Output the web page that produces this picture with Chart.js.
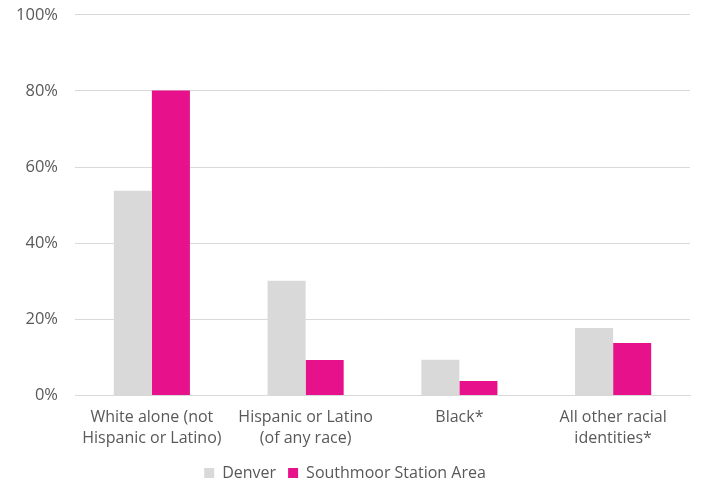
<!DOCTYPE html>
<html>
<head>
<meta charset="utf-8">
<script src="https://cdn.jsdelivr.net/npm/chart.js@4"></script>
<style>
  body { margin: 0; background: #fff; overflow: hidden; }
  #wrap { width: 701px; height: 503px; margin-top: -12.5px; }
</style>
</head>
<body>
<div id="wrap"><canvas id="grafico"></canvas></div>
<script>
var categorias = [
  ['White alone (not', 'Hispanic or Latino)'],
  ['Hispanic or Latino', '(of any race)'],
  'Black*',
  ['All other racial', 'identities*']
]
var denver = [53.8, 30.1, 9.4, 17.7]
var southmoor = [80.1, 9.3, 3.8, 13.8]
var nomes_series = ['Denver', 'Southmoor Station Area']

Chart.defaults.font.family = "'Open Sans', 'Liberation Sans', sans-serif"
Chart.defaults.color = '#595959'

var contexto = document.getElementById('grafico').getContext('2d')
new Chart(contexto, {
  type: 'bar',
  data: {
    labels: categorias,
    datasets: [
      { label: nomes_series[0], data: denver, backgroundColor: '#d9d9d9' },
      { label: nomes_series[1], data: southmoor, backgroundColor: '#e6118b' }
    ]
  },
  options: {
    responsive: true,
    maintainAspectRatio: false,
    animation: false,
    layout: { padding: { left: 0, right: 11, top: -9, bottom: 0 } },
    datasets: { bar: { categoryPercentage: 0.495, barPercentage: 1 } },
    plugins: {
      legend: {
        position: 'bottom',
        labels: { boxWidth: 10, boxHeight: 10, padding: 12, font: { size: 16 } }
      },
      tooltip: { enabled: false }
    },
    scales: {
      x: {
        grid: { display: false },
        border: { color: '#d9d9d9' },
        ticks: { font: { size: 16, lineHeight: 1.3 }, padding: 4, maxRotation: 0, autoSkip: false }
      },
      y: {
        min: 0, max: 100,
        afterFit: function (eixo) { eixo.width = 75 },
        grid: { color: '#d9d9d9', drawTicks: false },
        border: { display: false },
        ticks: { stepSize: 20, font: { size: 16.5 }, padding: 17, callback: function (v) { return v + '%' } }
      }
    }
  }
})
</script>
</body>
</html>
